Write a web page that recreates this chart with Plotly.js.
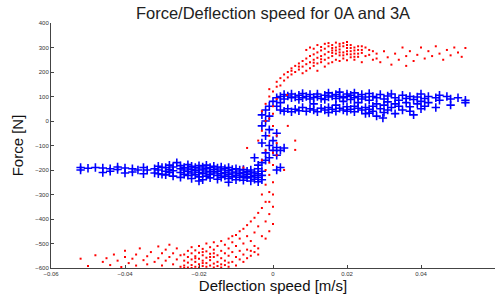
<!DOCTYPE html>
<html>
<head>
<meta charset="utf-8">
<script src="https://cdn.plot.ly/plotly-3.0.1.min.js"></script>
<style>html,body{margin:0;padding:0;background:#fff;}#chart{width:496px;height:298px;}</style>
</head>
<body>
<div id="chart"></div>
<script>
// 0A series (blue +)
const blueX = [
-0.052,-0.052,-0.050,-0.048,-0.046,-0.046,-0.044,-0.044,-0.042,-0.042,-0.040,-0.040,-0.038,-0.038,-0.0365,-0.035,-0.035,-0.034,-0.032,-0.032,-0.030,-0.030,
-0.031,-0.031,-0.031,-0.029,-0.029,-0.029,-0.028,-0.028,-0.028,-0.027,-0.027,-0.027,-0.025,-0.025,-0.025,-0.025,-0.024,-0.024,-0.024,
-0.023,-0.023,-0.023,-0.023,-0.022,-0.022,-0.022,-0.022,-0.021,-0.021,-0.021,-0.020,-0.020,-0.020,-0.020,-0.019,-0.019,-0.019,-0.019,
-0.018,-0.018,-0.018,-0.018,-0.017,-0.017,-0.017,-0.017,-0.016,-0.016,-0.016,-0.015,-0.015,-0.015,-0.015,-0.014,-0.014,-0.014,-0.014,
-0.013,-0.013,-0.013,-0.012,-0.012,-0.012,-0.012,-0.011,-0.011,-0.011,-0.010,-0.010,-0.010,-0.010,-0.009,-0.009,-0.009,
-0.008,-0.008,-0.008,-0.008,-0.007,-0.007,-0.007,-0.006,-0.006,-0.006,-0.006,-0.005,-0.005,-0.005,-0.004,-0.004,-0.004,-0.004,-0.003,-0.003,-0.003,
-0.026,-0.012,-0.020,
-0.004,-0.003,-0.002,-0.005,-0.001,-0.002,0.000,0.001,-0.001,-0.003,0.000,-0.002,0.001,-0.001,-0.003,-0.002,-0.001,-0.002,-0.001,0.000,-0.003,0.001,0.002,0.003,0.002,0.001,
0.001,0.001,0.002,0.002,0.002,0.003,0.003,0.003,0.004,0.004,0.005,0.005,0.005,0.006,0.006,0.007,0.007,0.007,0.008,0.008,0.008,0.009,0.009,
0.010,0.010,0.010,0.011,0.011,0.011,0.012,0.012,0.012,0.013,0.013,0.014,0.014,0.014,0.015,0.015,0.015,0.015,0.016,0.016,
0.017,0.017,0.017,0.017,0.018,0.018,0.018,0.019,0.019,0.019,0.020,0.020,0.020,0.020,0.021,0.021,0.021,0.022,0.022,0.022,0.022,
0.023,0.023,0.023,0.024,0.024,0.024,0.025,0.025,0.025,0.026,0.026,0.026,0.027,0.027,0.027,0.028,0.028,0.028,0.029,0.029,
0.030,0.030,0.030,0.031,0.031,0.031,0.032,0.032,0.033,0.033,0.033,0.034,0.034,0.035,0.035,0.036,0.036,0.037,0.037,0.037,
0.038,0.038,0.039,0.039,0.040,0.040,0.040,0.041,0.041,0.042,0.042,0.044,0.044,0.045,0.045,0.047,0.048,0.048,0.050,0.052,0.052,
0.0297,0.026
];
const blueY = [
-190,-200,-193,-190,-192,-210,-195,-205,-188,-198,-192,-212,-195,-208,-200,-190,-215,-200,-195,-212,-190,-218,
-185,-200,-215,-190,-205,-220,-180,-198,-210,-188,-203,-225,-182,-195,-210,-230,-190,-200,-218,
-178,-192,-206,-222,-185,-198,-212,-235,-190,-203,-220,-182,-196,-210,-228,-188,-200,-215,-240,
-180,-195,-208,-225,-190,-205,-218,-232,-185,-198,-212,-192,-206,-222,-238,-188,-200,-215,-230,
-195,-210,-225,-190,-203,-218,-235,-198,-212,-228,-195,-208,-222,-240,-200,-215,-230,
-198,-210,-225,-242,-205,-218,-232,-200,-212,-228,-245,-208,-222,-238,-195,-215,-230,-248,-205,-222,-240,
-170,-250,-245,
-180,-170,-160,-150,-150,-130,-120,-108,-100,-90,-80,-60,-50,-35,-20,0,20,45,60,80,25,-140,-120,-110,-190,-200,
95,60,100,45,75,108,90,40,102,50,110,95,38,98,48,105,88,42,112,95,55,100,40,
108,90,50,96,45,70,110,100,38,92,52,105,88,45,115,98,55,35,102,48,
108,92,40,65,118,100,52,95,45,80,110,100,58,40,105,88,48,115,95,60,38,
100,52,75,108,90,45,98,55,30,112,85,48,100,60,40,95,70,20,108,50,
90,65,35,102,78,45,110,55,95,70,30,85,60,105,45,92,75,100,58,40,
88,25,98,70,110,80,50,92,60,100,75,95,55,105,85,100,90,65,95,85,75,
12,32
];

// 3A series (red dots)
const redX = [
-0.052,-0.050,-0.048,-0.046,-0.045,-0.044,-0.043,-0.042,-0.041,-0.040,-0.040,-0.039,-0.038,-0.037,-0.037,-0.036,-0.035,-0.034,-0.034,-0.033,-0.032,-0.031,-0.031,-0.030,-0.030,-0.029,-0.029,-0.028,-0.028,-0.027,-0.027,-0.026,-0.026,-0.025,-0.025,
-0.024,-0.024,-0.024,-0.023,-0.023,-0.023,-0.023,-0.022,-0.022,-0.022,-0.022,-0.021,-0.021,-0.021,-0.021,-0.020,-0.020,-0.020,-0.020,-0.019,-0.019,-0.019,-0.019,
-0.018,-0.018,-0.018,-0.018,-0.017,-0.017,-0.017,-0.017,-0.016,-0.016,-0.016,-0.016,-0.015,-0.015,-0.015,-0.014,-0.014,-0.014,-0.014,-0.013,-0.013,-0.013,-0.012,-0.012,-0.012,-0.012,
-0.011,-0.011,-0.011,-0.010,-0.010,-0.010,-0.009,-0.009,-0.009,-0.008,-0.008,-0.008,-0.007,-0.007,-0.007,-0.006,-0.006,-0.006,-0.005,-0.005,-0.005,-0.004,-0.004,-0.004,-0.003,-0.003,-0.003,-0.002,-0.002,-0.002,-0.001,-0.001,-0.001,0.000,0.000,0.000,
-0.003,-0.002,-0.004,-0.003,-0.002,-0.003,-0.002,-0.001,-0.001,0.000,0.000,0.001,0.001,0.000,0.001,-0.001,0.003,0.006,0.006,-0.008,-0.007,0.004,
0.001,0.002,0.002,0.003,0.003,0.004,0.004,0.005,0.005,0.006,0.006,0.007,0.007,0.008,0.008,0.008,0.009,0.009,0.009,0.010,0.010,0.010,0.011,0.011,0.011,
0.012,0.012,0.012,0.012,0.013,0.013,0.013,0.014,0.014,0.014,0.014,0.015,0.015,0.015,0.015,0.016,0.016,0.016,0.016,0.017,0.017,0.017,
0.018,0.018,0.018,0.018,0.019,0.019,0.019,0.020,0.020,0.020,0.020,0.021,0.021,0.021,0.022,0.022,0.022,0.023,0.023,0.024,0.024,0.024,
0.025,0.026,0.027,0.028,0.029,0.030,0.031,0.032,0.033,0.034,0.035,0.036,0.036,0.037,0.038,0.039,0.040,0.041,0.042,0.043,0.044,0.045,0.046,0.047,0.048,0.049,0.050,0.051,0.052,
0.0038,
0.009,0.010,0.011,0.012,0.013,0.014,0.015,0.016,0.017,0.017,0.018,0.019,0.019,0.020,0.021,0.021,0.022,0.022,0.023,0.023,0.013,0.011,0.007,0.005,0.016,0.018,0.020,0.024,0.025,0.026,0.027,0.028,
-0.001,-0.002,0.000,-0.001,0.000,-0.001,0.000,0.001,-0.001,0.000,0.001,-0.002,
-0.022,-0.020,-0.018,-0.016,-0.014,-0.019,-0.017,-0.015,-0.013,-0.011,-0.010,-0.009,-0.008,-0.007,-0.006,-0.005,-0.004,-0.012,-0.024,-0.021,-0.019,-0.016
];
const redY = [
-562,-592,-548,-575,-560,-588,-545,-570,-596,-555,-530,-580,-562,-545,-590,-520,-568,-552,-585,-535,-575,-512,-560,-590,-540,-525,-570,-555,-505,-585,-540,-565,-520,-595,-548,
-590,-570,-545,-598,-578,-555,-530,-588,-565,-540,-515,-595,-575,-552,-528,-585,-562,-538,-510,-592,-570,-548,-522,
-580,-558,-532,-500,-590,-568,-542,-515,-582,-555,-525,-495,-575,-548,-510,-585,-560,-530,-490,-570,-540,-505,-578,-550,-520,-480,
-535,-495,-470,-555,-510,-465,-530,-480,-450,-545,-500,-440,-525,-470,-425,-550,-490,-410,-535,-455,-395,-520,-430,-375,-470,-355,-300,-410,-330,-260,-380,-290,-220,-350,-250,-180,
-160,-120,-80,-40,0,40,70,100,-60,-20,30,-140,-90,120,140,130,-200,-118,-80,-190,-110,-20,
160,175,145,190,165,200,178,215,190,225,200,235,210,245,222,195,255,232,205,265,240,215,272,250,225,
280,258,235,205,288,265,240,295,272,250,222,305,282,258,235,310,288,265,240,300,275,250,
315,292,268,245,305,280,255,322,298,272,248,310,285,260,300,275,250,290,262,305,278,240,
265,290,250,275,240,285,260,230,275,250,300,265,225,285,245,270,300,255,285,265,305,275,250,290,268,300,280,262,298,
106,
290,300,295,310,302,315,318,298,320,288,305,318,268,310,298,272,288,262,305,275,252,238,222,205,278,280,285,290,300,270,285,255,
-450,-480,-420,-330,-300,-170,-130,-60,10,60,90,-200,
-600,-598,-595,-598,-598,-580,-555,-592,-588,-575,-590,-565,-575,-560,-530,-510,-545,-595,-600,-560,-535,-540
];

const font = 'Liberation Sans, Arial, Helvetica, sans-serif';

const traces = [
  {
    type: 'scatter', mode: 'markers', name: '0A',
    x: blueX, y: blueY,
    marker: {symbol: 'cross-thin', size: 6, color: '#0000ff', line: {color: '#0000ff', width: 1.6}},
    hoverinfo: 'skip'
  },
  {
    type: 'scatter', mode: 'markers', name: '3A',
    x: redX, y: redY,
    marker: {symbol: 'square', size: 2, color: '#ff0000', line: {width: 0}},
    hoverinfo: 'skip'
  }
];

const layout = {
  width: 496, height: 298,
  margin: {l: 51, r: 1, t: 23, b: 30},
  paper_bgcolor: '#ffffff', plot_bgcolor: '#ffffff',
  showlegend: false,
  font: {family: font, color: '#222'},
  title: {
    text: 'Force/Deflection speed for 0A and 3A',
    font: {family: font, size: 16.5, color: '#222'},
    xref: 'paper', x: 0.5, xanchor: 'center',
    yref: 'container', y: 0.955, yanchor: 'middle'
  },
  xaxis: {
    range: [-0.06, 0.06], tick0: 0, dtick: 0.02,
    showgrid: false, zeroline: false,
    showline: true, linecolor: '#444', linewidth: 1,
    ticks: 'inside', ticklen: 3, tickcolor: '#444', tickwidth: 1,
    tickfont: {family: font, size: 6, color: '#333'},
    title: {text: 'Deflection speed [m/s]', font: {family: font, size: 15, color: '#111'}, standoff: 2}
  },
  yaxis: {
    range: [-600, 400], tick0: 0, dtick: 100,
    showgrid: false, zeroline: false,
    showline: true, linecolor: '#444', linewidth: 1,
    ticks: 'inside', ticklen: 3, tickcolor: '#444', tickwidth: 1,
    tickfont: {family: font, size: 6, color: '#333'},
    title: {text: 'Force [N]', font: {family: font, size: 15, color: '#111'}, standoff: 8}
  }
};

Plotly.newPlot('chart', traces, layout, {staticPlot: true, displayModeBar: false});
</script>
</body>
</html>
